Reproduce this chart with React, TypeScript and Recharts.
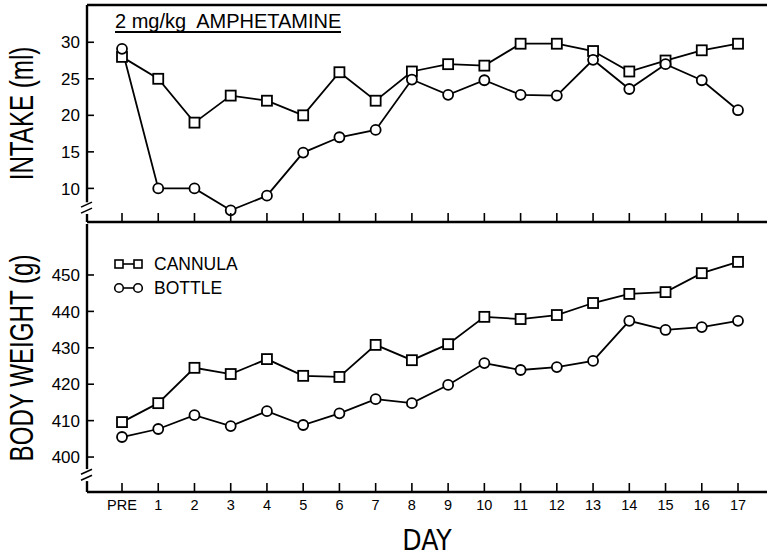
import { LineChart, Line, XAxis, YAxis, ReferenceLine, ReferenceDot } from 'recharts'

const days = ['PRE', '1', '2', '3', '4', '5', '6', '7', '8', '9', '10', '11', '12', '13', '14', '15', '16', '17']

// intake (ml)
const intakeCannula = [28, 25, 19, 22.7, 22, 20, 25.9, 22, 26, 27, 26.8, 29.8, 29.8, 28.8, 26, 27.5, 28.9, 29.8]
const intakeBottle = [29.1, 10, 10, 7, 9, 14.9, 17, 18, 24.9, 22.8, 24.8, 22.8, 22.7, 27.6, 23.6, 27, 24.8, 20.7]

// body weight (g)
const weightCannula = [409.6, 414.8, 424.5, 422.8, 426.9, 422.3, 422, 430.8, 426.6, 431, 438.5, 437.9, 439, 442.3, 444.8, 445.3, 450.5, 453.6]
const weightBottle = [405.5, 407.7, 411.5, 408.5, 412.6, 408.8, 412, 415.9, 414.8, 419.8, 425.8, 423.9, 424.7, 426.4, 437.4, 434.9, 435.7, 437.4]

const intakeTicks = [10, 15, 20, 25, 30]
const weightTicks = [400, 410, 420, 430, 440, 450]

const NARROW = '"Liberation Sans Narrow", "DejaVu Sans Condensed", "Liberation Sans", sans-serif'
const SANS = '"Liberation Sans", Arial, sans-serif'

const X_DOMAIN: [number, number] = [-0.966, 17.8]
const TOP_DOMAIN: [number, number] = [5.4, 35.1]
const BOT_DOMAIN: [number, number] = [390.4, 464]

const intakeData = days.map((d, i) => ({ i, day: d, cannula: intakeCannula[i], bottle: intakeBottle[i] }))
const weightData = days.map((d, i) => ({ i, day: d, cannula: weightCannula[i], bottle: weightBottle[i] }))

function SquareDot(props: any) {
  const { cx, cy } = props
  if (cx == null || cy == null) return null
  return <rect x={cx - 5} y={cy - 5} width={10} height={10} fill="#fff" stroke="#000" strokeWidth={1.8} />
}

function CircleDot(props: any) {
  const { cx, cy } = props
  if (cx == null || cy == null) return null
  return <circle cx={cx} cy={cy} r={5} fill="#fff" stroke="#000" strokeWidth={1.8} />
}

function DayTick({ x, y, payload, showLabel }: any) {
  return (
    <g>
      <line x1={x} x2={x} y1={y} y2={y - 9} stroke="#000" strokeWidth={1.6} />
      {showLabel && (
        <text x={x} y={y + 18} textAnchor="middle" fontSize={14.5} fontFamily={SANS} fill="#000">
          {days[payload.value]}
        </text>
      )}
    </g>
  )
}

function ValueTick({ x, y, payload }: any) {
  return (
    <g>
      <line x1={x} x2={x + 7} y1={y} y2={y} stroke="#000" strokeWidth={1.6} />
      <text x={x - 7} y={y} dy="0.36em" textAnchor="end" fontSize={17} fontFamily={SANS} fill="#000">
        {payload.value}
      </text>
    </g>
  )
}

function BreakMark(props: any) {
  const { cx, cy } = props
  if (cx == null || cy == null) return null
  return (
    <g stroke="#000" strokeWidth={1.6}>
      <line x1={cx - 6} y1={cy - 1} x2={cx + 5} y2={cy - 6} />
      <line x1={cx - 6} y1={cy + 5} x2={cx + 5} y2={cy} />
    </g>
  )
}

function SideLabel({ viewBox, text }: any) {
  const cx = viewBox.x + 21
  const cy = viewBox.y + viewBox.height / 2
  return (
    <text
      transform={`translate(${cx},${cy}) rotate(-90) scale(0.71,1)`}
      textAnchor="middle"
      dy="0.36em"
      fontSize={34}
      fontFamily={SANS}
      fill="#000"
    >
      {text}
    </text>
  )
}

export default function App() {
  return (
    <div style={{ position: 'absolute', left: 0, top: 0, width: 767, height: 557, background: '#fff' }}>
      {/* intake panel */}
      <div style={{ position: 'absolute', left: 0, top: 0 }}>
        <LineChart width={767} height={230} data={intakeData} margin={{ top: 5, right: 0, bottom: 0, left: 0 }}>
          <XAxis
            dataKey="i"
            type="number"
            domain={X_DOMAIN}
            ticks={intakeData.map((d) => d.i)}
            interval={0}
            height={8}
            tickSize={0}
            tickMargin={0}
            tickLine={false}
            axisLine={{ stroke: '#000', strokeWidth: 2.4 }}
            tick={<DayTick showLabel={false} />}
          />
          <YAxis
            type="number"
            domain={TOP_DOMAIN}
            ticks={intakeTicks}
            width={87}
            tickSize={0}
            tickMargin={0}
            tickLine={false}
            axisLine={false}
            tick={<ValueTick />}
            label={<SideLabel text="INTAKE (ml)" />}
          />
          <ReferenceLine y={TOP_DOMAIN[1]} stroke="#000" strokeWidth={2.4} ifOverflow="visible" />
          <ReferenceLine
            segment={[{ x: X_DOMAIN[0], y: 8.1 }, { x: X_DOMAIN[0], y: TOP_DOMAIN[1] }]}
            stroke="#000"
            strokeWidth={2.4}
            ifOverflow="visible"
          />
          <ReferenceLine
            segment={[{ x: X_DOMAIN[0], y: TOP_DOMAIN[0] }, { x: X_DOMAIN[0], y: 6.5 }]}
            stroke="#000"
            strokeWidth={2.4}
            ifOverflow="visible"
          />
          <ReferenceDot x={X_DOMAIN[0]} y={7.3} ifOverflow="visible" shape={(p: any) => <BreakMark {...p} />} />
          <Line
            type="linear"
            dataKey="cannula"
            stroke="#000"
            strokeWidth={1.8}
            dot={(p: any) => <SquareDot key={`c${p.index}`} {...p} />}
            isAnimationActive={false}
          />
          <Line
            type="linear"
            dataKey="bottle"
            stroke="#000"
            strokeWidth={1.8}
            dot={(p: any) => <CircleDot key={`b${p.index}`} {...p} />}
            isAnimationActive={false}
          />
        </LineChart>
      </div>

      {/* body weight panel */}
      <div style={{ position: 'absolute', left: 0, top: 224 }}>
        <LineChart width={767} height={333} data={weightData} margin={{ top: 0, right: 0, bottom: 0, left: 0 }}>
          <XAxis
            dataKey="i"
            type="number"
            domain={X_DOMAIN}
            ticks={weightData.map((d) => d.i)}
            interval={0}
            height={65}
            tickSize={0}
            tickMargin={0}
            tickLine={false}
            axisLine={{ stroke: '#000', strokeWidth: 2.4 }}
            tick={<DayTick showLabel />}
            label={{ value: 'DAY', position: 'insideBottom', offset: 7, fontSize: 28, fontFamily: NARROW, fill: '#000' }}
          />
          <YAxis
            type="number"
            domain={BOT_DOMAIN}
            ticks={weightTicks}
            width={87}
            tickSize={0}
            tickMargin={0}
            tickLine={false}
            axisLine={false}
            tick={<ValueTick />}
            label={<SideLabel text="BODY WEIGHT (g)" />}
          />
          <ReferenceLine
            segment={[{ x: X_DOMAIN[0], y: 396.7 }, { x: X_DOMAIN[0], y: BOT_DOMAIN[1] }]}
            stroke="#000"
            strokeWidth={2.4}
            ifOverflow="visible"
          />
          <ReferenceLine
            segment={[{ x: X_DOMAIN[0], y: BOT_DOMAIN[0] }, { x: X_DOMAIN[0], y: 393.4 }]}
            stroke="#000"
            strokeWidth={2.4}
            ifOverflow="visible"
          />
          <ReferenceDot x={X_DOMAIN[0]} y={395} ifOverflow="visible" shape={(p: any) => <BreakMark {...p} />} />
          <Line
            type="linear"
            dataKey="cannula"
            stroke="#000"
            strokeWidth={1.8}
            dot={(p: any) => <SquareDot key={`c${p.index}`} {...p} />}
            isAnimationActive={false}
          />
          <Line
            type="linear"
            dataKey="bottle"
            stroke="#000"
            strokeWidth={1.8}
            dot={(p: any) => <CircleDot key={`b${p.index}`} {...p} />}
            isAnimationActive={false}
          />
        </LineChart>
      </div>

      {/* treatment title */}
      <div
        style={{
          position: 'absolute',
          left: 115,
          top: 11,
          fontFamily: SANS,
          fontSize: 20,
          lineHeight: '20px',
          whiteSpace: 'pre',
          borderBottom: '2px solid #000',
          color: '#000',
        }}
      >
        {'2 mg/kg  AMPHETAMINE'}
      </div>

      {/* legend */}
      <div style={{ position: 'absolute', left: 113, top: 252, fontFamily: SANS, fontSize: 17.5, color: '#000' }}>
        <div style={{ display: 'flex', alignItems: 'center', height: 24 }}>
          <svg width={32} height={14} style={{ marginRight: 9 }}>
            <line x1={5} x2={26} y1={7} y2={7} stroke="#000" strokeWidth={1.6} />
            <rect x={2} y={3} width={8} height={8} fill="#fff" stroke="#000" strokeWidth={1.6} />
            <rect x={21} y={3} width={8} height={8} fill="#fff" stroke="#000" strokeWidth={1.6} />
          </svg>
          <span>CANNULA</span>
        </div>
        <div style={{ display: 'flex', alignItems: 'center', height: 24 }}>
          <svg width={32} height={14} style={{ marginRight: 9 }}>
            <line x1={5} x2={26} y1={7} y2={7} stroke="#000" strokeWidth={1.6} />
            <circle cx={6} cy={7} r={4.3} fill="#fff" stroke="#000" strokeWidth={1.6} />
            <circle cx={25} cy={7} r={4.3} fill="#fff" stroke="#000" strokeWidth={1.6} />
          </svg>
          <span>BOTTLE</span>
        </div>
      </div>
    </div>
  )
}
